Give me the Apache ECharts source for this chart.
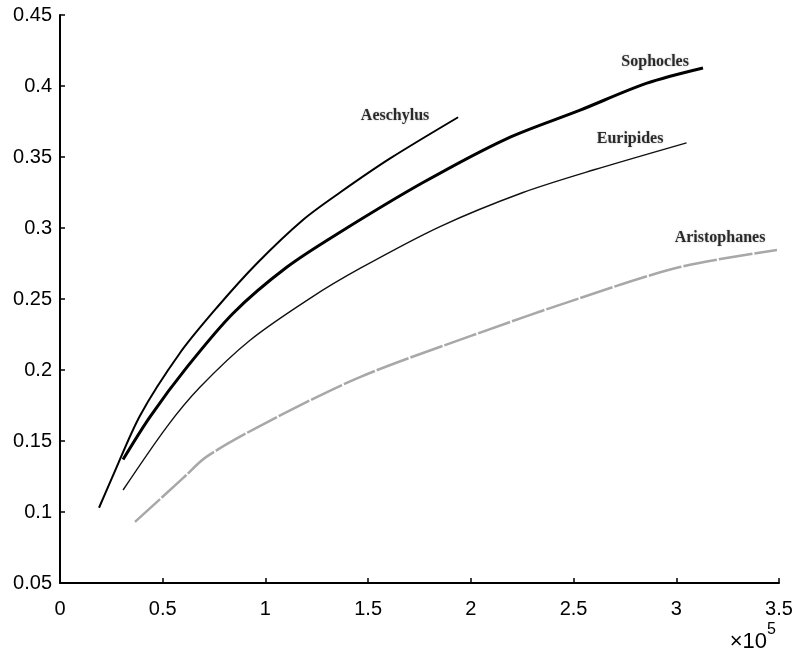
<!DOCTYPE html>
<html>
<head>
<meta charset="utf-8">
<script src="https://cdn.jsdelivr.net/npm/echarts@6/dist/echarts.min.js"></script>
<style>html,body{margin:0;padding:0;background:#fff}#c{width:801px;height:658px}</style>
</head>
<body>
<div id="c"></div>
<script>
// x in units of 10^5
const xTicks = [0, 0.5, 1, 1.5, 2, 2.5, 3, 3.5];
const yTicks = [0.05, 0.1, 0.15, 0.2, 0.25, 0.3, 0.35, 0.4, 0.45];
const aeschylus = [[0.19,0.103],[0.253,0.124],[0.39,0.168],[0.584,0.212],[0.764,0.244],[0.958,0.275],[1.185,0.306],[1.363,0.325],[1.607,0.349],[1.938,0.378]];
const sophocles = [[0.307,0.137],[0.438,0.167],[0.618,0.202],[0.843,0.240],[1.105,0.2725],[1.363,0.297],[1.767,0.332],[2.176,0.363],[2.532,0.383],[2.857,0.402],[3.13,0.4127]];
const euripides = [[0.307,0.1155],[0.52,0.160],[0.682,0.188],[0.925,0.221],[1.217,0.2505],[1.46,0.2715],[1.85,0.301],[2.254,0.325],[2.6,0.341],[3.05,0.360]];
const aristophanes = [[0.365,0.093],[0.60,0.124],[0.714,0.139],[1.005,0.163],[1.46,0.195],[2.0,0.224],[2.532,0.2507],[3.018,0.2725],[3.49,0.2845]];
const labelNames = ['Aeschylus','Sophocles','Euripides','Aristophanes'];
const labelPos = [[1.631,0.379],[2.897,0.417],[2.775,0.363],[3.213,0.293]];

const chart = echarts.init(document.getElementById('c'));
const fmt = v => String(+(+v).toFixed(2));
const axisFont = 'Liberation Sans, Arial, sans-serif';
const lineCommon = {smooth: 0.3, showSymbol: false};
chart.setOption({
  animation: false,
  grid: {left: 60, right: 22, top: 15, bottom: 75},
  xAxis: {
    type: 'value', min: 0, max: 3.5, interval: 0.5,
    axisLine: {onZero: false, lineStyle: {color: '#000', width: 2}},
    axisTick: {show: true, inside: true, length: 5, lineStyle: {color: '#000', width: 1.5}},
    axisLabel: {color: '#000', fontSize: 20, fontFamily: axisFont, margin: 16, formatter: fmt},
    splitLine: {show: false}
  },
  yAxis: {
    type: 'value', min: 0.05, max: 0.45, interval: 0.05,
    axisLine: {show: true, onZero: false, lineStyle: {color: '#000', width: 2}},
    axisTick: {show: true, inside: true, length: 5, lineStyle: {color: '#000', width: 1.5}},
    axisLabel: {color: '#000', fontSize: 20, fontFamily: axisFont, margin: 8, formatter: fmt},
    splitLine: {show: false}
  },
  series: [
    Object.assign({type: 'line', name: 'Aeschylus', data: aeschylus, lineStyle: {color: '#000', width: 2}}, lineCommon),
    Object.assign({type: 'line', name: 'Sophocles', data: sophocles, lineStyle: {color: '#000', width: 3}}, lineCommon),
    Object.assign({type: 'line', name: 'Euripides', data: euripides, lineStyle: {color: '#111', width: 1.4}}, lineCommon),
    Object.assign({type: 'line', name: 'Aristophanes', data: aristophanes, lineStyle: {color: '#a8a8a8', width: 2.5, type: [34, 2]}}, lineCommon),
    {type: 'scatter', symbolSize: 0, silent: true,
      data: labelPos.map((p, i) => ({value: p, name: labelNames[i]})),
      label: {show: true, position: 'inside', formatter: '{b}', color: '#000', fontSize: 16, fontWeight: 'bold',
        fontFamily: 'Liberation Serif, Times New Roman, serif',
        textShadowColor: 'rgba(0,0,0,0.35)', textShadowBlur: 2}}
  ],
  graphic: [
    {type: 'text', style: {x: 767, y: 642, text: '×10', fill: '#000', font: '22px Liberation Sans, Arial, sans-serif', textAlign: 'right', textVerticalAlign: 'middle'}},
    {type: 'text', style: {x: 767, y: 630, text: '5', fill: '#000', font: '16px Liberation Sans, Arial, sans-serif', textAlign: 'left', textVerticalAlign: 'middle'}}
  ]
});
</script>
</body>
</html>
